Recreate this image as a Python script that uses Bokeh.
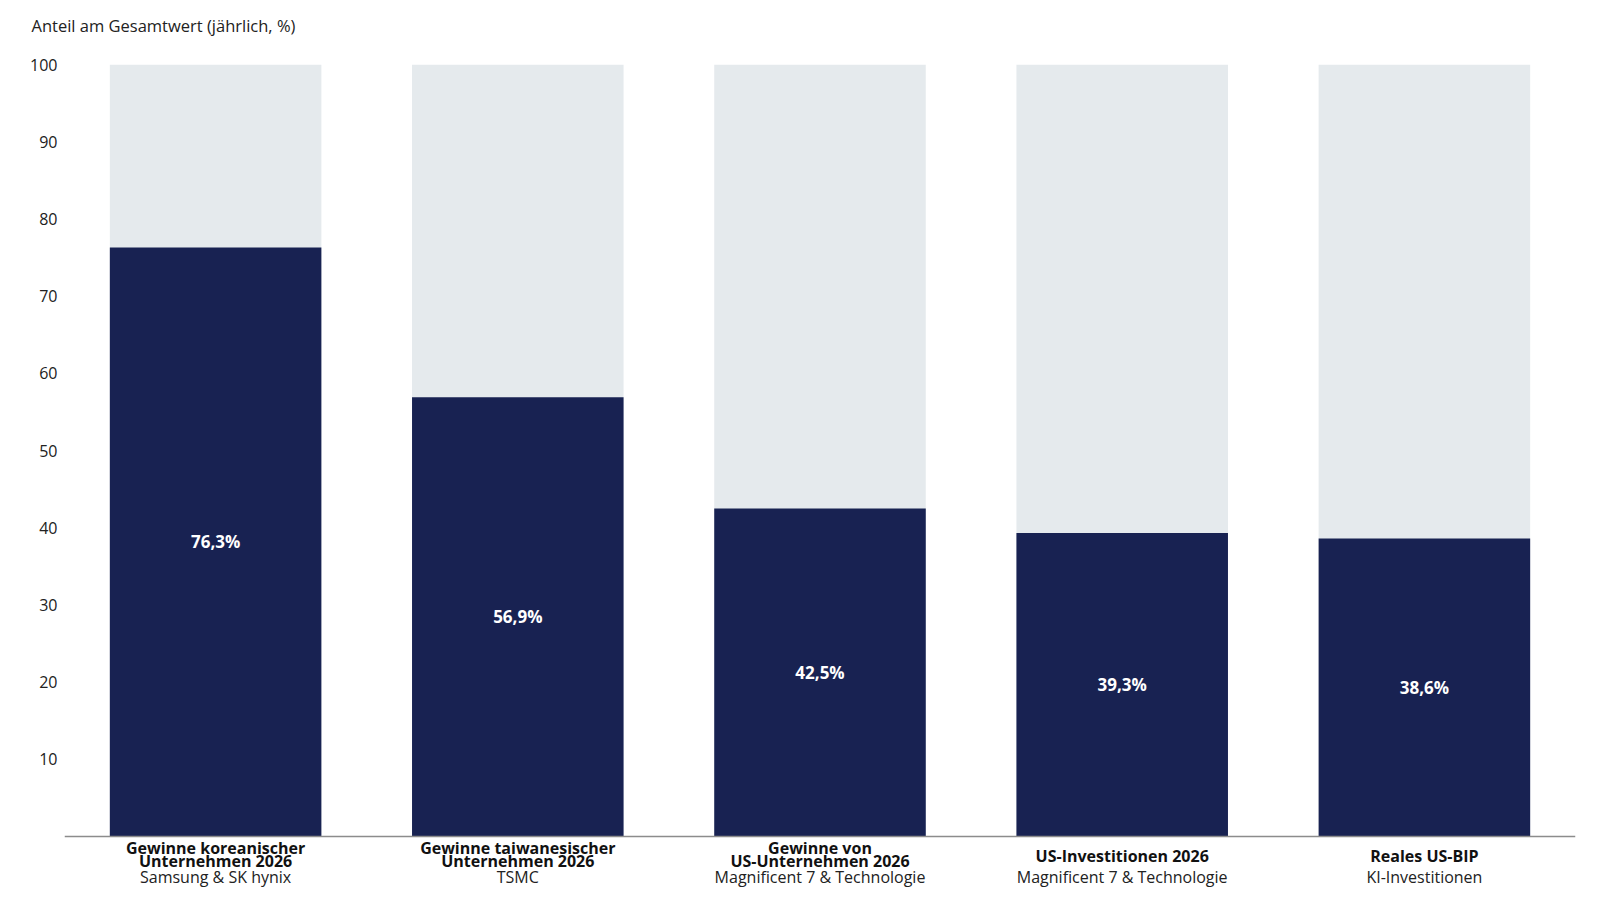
from bokeh.plotting import figure
from bokeh.models import Range1d, FactorRange, FixedTicker, Span, ColumnDataSource
from bokeh.core.properties import value
from bokeh.embed import file_html
from bokeh.resources import INLINE

# ---- data ----
categories = ["korea", "taiwan", "us_profits", "us_capex", "us_gdp"]
titles = [
    "Gewinne koreanischer\nUnternehmen 2026",
    "Gewinne taiwanesischer\nUnternehmen 2026",
    "Gewinne von\nUS-Unternehmen 2026",
    "US-Investitionen 2026",
    "Reales US-BIP",
]
subtitles = [
    "Samsung & SK hynix",
    "TSMC",
    "Magnificent 7 & Technologie",
    "Magnificent 7 & Technologie",
    "KI-Investitionen",
]
shares = [76.3, 56.9, 42.5, 39.3, 38.6]
totals = [100, 100, 100, 100, 100]
y_ticks = [10, 20, 30, 40, 50, 60, 70, 80, 90, 100]
title_text = "Anteil am Gesamtwert (jährlich, %)"

DARK = "#182252"
LIGHT = "#e5eaed"
FONT = "Open Sans"

# split the bold category titles into single lines placed one under another
line_x, line_txt, line_y = [], [], []
for c, t in zip(categories, titles):
    parts = t.split("\n")
    if len(parts) == 1:
        ys = [-2.58]
    else:
        ys = [-1.49, -3.17]
    for part, yy in zip(parts, ys):
        line_x.append(c)
        line_txt.append(part)
        line_y.append(yy)

src = ColumnDataSource(dict(
    x=categories,
    share=shares,
    total=totals,
    mid=[s / 2 for s in shares],
    lab=[("%.1f%%" % s).replace(".", ",") for s in shares],
    sub=subtitles,
    sy=[-5.3] * len(categories),
))
tsrc = ColumnDataSource(dict(x=line_x, y=line_y, text=line_txt))

p = figure(
    x_range=FactorRange(*categories),
    y_range=Range1d(-7.38, 100),
    width=1600, height=897,
    frame_width=1511, frame_height=829,
    min_border_left=64, min_border_right=25,
    min_border_top=64, min_border_bottom=4,
    output_backend="svg", toolbar_location=None,
    title=title_text + "\n ",
)
p.outline_line_color = None
p.grid.visible = False
p.xaxis.visible = False

p.title.align = "left"
p.title.vertical_align = "top"
p.title.offset = -33
p.title.text_font = FONT
p.title.text_font_style = "normal"
p.title.text_font_size = "16.5px"
p.title.text_color = "#222222"
p.title.standoff = 6

ya = p.yaxis[0]
ya.ticker = FixedTicker(ticks=y_ticks)
ya.axis_line_color = None
ya.major_tick_line_color = None
ya.minor_tick_line_color = None
ya.major_tick_out = 0
ya.major_tick_in = 0
ya.major_label_standoff = 7
ya.major_label_text_font = FONT
ya.major_label_text_font_size = "16px"
ya.major_label_text_color = "#222222"

p.vbar(x="x", top="total", bottom=0, width=0.7, source=src,
       fill_color=LIGHT, line_color=None)
p.vbar(x="x", top="share", bottom=0, width=0.7, source=src,
       fill_color=DARK, line_color=None)

p.text(x="x", y="mid", text="lab", source=src, text_align="center",
       text_baseline="middle", text_color="white",
       text_font=value(FONT), text_font_style="bold", text_font_size="17px")

p.add_layout(Span(location=0, dimension="width", line_color="#8c8c8c", line_width=1.5))

p.text(x="x", y="y", text="text", source=tsrc, text_align="center",
       text_baseline="middle", text_color="#111111",
       text_font=value(FONT), text_font_style="bold", text_font_size="16px")
p.text(x="x", y="sy", text="sub", source=src, text_align="center",
       text_baseline="middle", text_color="#222222",
       text_font=value(FONT), text_font_size="16px")

open("out.html", "w").write(file_html(p, INLINE))
